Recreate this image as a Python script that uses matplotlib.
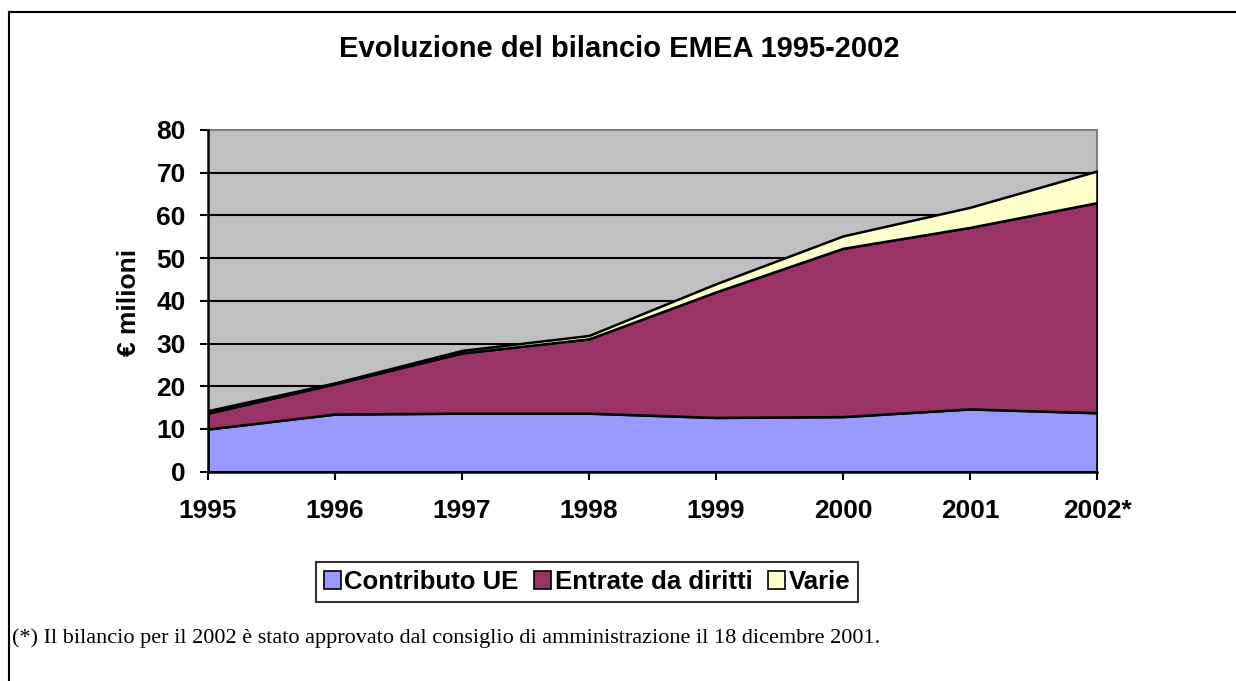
import matplotlib
matplotlib.use("Agg")
import matplotlib.pyplot as plt
from matplotlib.lines import Line2D
from matplotlib.patches import Patch
import numpy as np

years = ["1995", "1996", "1997", "1998", "1999", "2000", "2001", "2002*"]
contributo_ue = [10.0, 13.5, 13.7, 13.7, 12.7, 12.9, 14.7, 13.8]
entrate_diritti = [3.7, 7.1, 14.1, 17.4, 29.4, 39.4, 42.5, 49.2]
varie = [0.6, 0.2, 0.6, 0.8, 1.9, 2.9, 4.7, 7.4]
series_names = ["Contributo UE", "Entrate da diritti", "Varie"]
colors = ["#9999FF", "#993366", "#FFFFCC"]
yticks = [0, 10, 20, 30, 40, 50, 60, 70, 80]

W, H = 1236, 681
fig = plt.figure(figsize=(W / 100, H / 100), dpi=100)
fig.patch.set_facecolor("white")

sans = ["Liberation Sans", "DejaVu Sans"]
serif = ["Liberation Serif", "DejaVu Serif"]

# outer frame (top and left lines)
fig.add_artist(Line2D([9 / W, 1.0], [1 - 12 / H, 1 - 12 / H], color="black", lw=1.5, transform=fig.transFigure))
fig.add_artist(Line2D([9 / W, 9 / W], [0, 1 - 12 / H], color="black", lw=1.5, transform=fig.transFigure))

ax = fig.add_axes([208 / W, (H - 471.7) / H, 889 / W, 341.7 / H])
ax.set_facecolor("#C0C0C0")
x = np.arange(len(years))
ax.stackplot(x, contributo_ue, entrate_diritti, varie, colors=colors,
             edgecolor="black", linewidth=1.8, zorder=3)
ax.set_xlim(0, len(years) - 1)
ax.set_ylim(0, 80)
ax.set_yticks(yticks)
ax.set_yticklabels([str(v) for v in yticks], fontfamily=sans, fontweight="bold", fontsize=19)
ax.set_xticks(x)
ax.set_xticklabels(years, fontfamily=sans, fontweight="bold", fontsize=19)
for v in yticks[1:-1]:
    ax.axhline(v, color="black", lw=1.5, zorder=2)
ax.tick_params(axis="y", direction="out", length=6, width=1.5, pad=10)
ax.tick_params(axis="x", direction="out", length=6, width=1.5, pad=14)
for side in ["top", "right"]:
    ax.spines[side].set_color("#808080")
    ax.spines[side].set_linewidth(1.5)
for side in ["left", "bottom"]:
    ax.spines[side].set_color("black")
    ax.spines[side].set_linewidth(1.8)
    ax.spines[side].set_zorder(5)

fig.text(619 / W, 1 - 49 / H, "Evoluzione del bilancio EMEA 1995-2002", ha="center", va="center",
         fontfamily=sans, fontweight="bold", fontsize=21)
fig.text(129 / W, 1 - 302 / H, "€ milioni", ha="center", va="center", rotation=90,
         fontfamily=sans, fontweight="bold", fontsize=19)

handles = [Patch(facecolor=c, edgecolor="black", linewidth=1.2) for c in colors]
leg = fig.legend(handles, series_names, loc="center", bbox_to_anchor=(587 / W, 1 - 582 / H),
                 ncol=3, frameon=True, fancybox=False, edgecolor="black", handlelength=0.65,
                 handleheight=0.65, handletextpad=0.15, columnspacing=0.6, borderpad=0.3,
                 borderaxespad=0, prop={"family": sans, "weight": "bold", "size": 18.5})
leg.get_frame().set_linewidth(1.5)

fig.text(12 / W, 1 - 638 / H,
         "(*) Il bilancio per il 2002 è stato approvato dal consiglio di amministrazione il 18 dicembre 2001.",
         ha="left", va="center", fontfamily=serif, fontsize=16)

fig.savefig("out.png", dpi=100)
